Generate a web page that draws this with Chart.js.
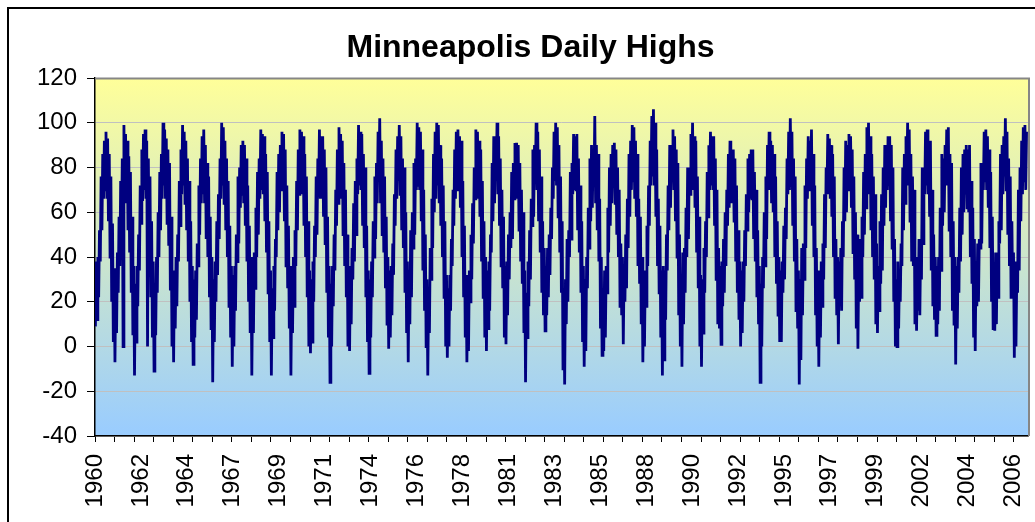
<!DOCTYPE html>
<html>
<head>
<meta charset="utf-8">
<script src="https://cdn.jsdelivr.net/npm/chart.js@4/dist/chart.umd.min.js"></script>
<style>
  html, body { margin: 0; padding: 0; background: #ffffff; }
  #wrap { width: 1035px; height: 522px; position: relative; }
</style>
</head>
<body>
<div id="wrap"><canvas id="c"></canvas></div>
<script>
// ---- Data: daily highs (°F), two readings per month (low swing, high swing) ----
const chartTitle = 'Minneapolis Daily Highs';
const years = [1960,1961,1962,1963,1964,1965,1966,1967,1968,1969,1970,1971,1972,1973,1974,1975,1976,1977,1978,1979,1980,1981,1982,1983,1984,1985,1986,1987,1988,1989,1990,1991,1992,1993,1994,1995,1996,1997,1998,1999,2000,2001,2002,2003,2004,2005,2006,2007];
const t1960 = [9,38, 12,40, 22,52, 38,76, 52,86, 66,92, 70,96, 66,93, 56,86, 40,76, 20,55, 2,35];
const t1961 = [-7,30, 6,42, 24,58, 36,74, 50,84, 0,99, 68,95, 64,92, 52,85, 42,78, 24,58, 5,36];
const t1962 = [-13,28, 2,36, 18,50, 34,72, 55,88, 65,95, 70,97, 66,92, 0,84, 40,76, 22,56, 4,38];
const t1963 = [-11,26, 5,40, 24,60, 40,78, 52,86, 66,100, 72,97, 66,93, 55,88, 45,82, 25,58, 0,34];
const t1964 = [-7,34, 8,40, 18,50, 38,74, 54,88, 68,99, 72,96, 64,92, 52,84, 38,74, 20,56, 2,36];
const t1965 = [-8,30, 4,34, 12,46, 36,72, 50,84, 64,94, 68,97, 64,90, 48,82, 40,76, 22,58, 8,40];
const t1966 = [-16,30, 2,38, 20,56, 32,68, 48,84, 66,100, 72,98, 64,92, 52,84, 40,74, 18,54, 4,36];
const t1967 = [-9,32, 0,36, 16,50, 38,76, 46,80, 62,90, 68,92, 64,90, 54,84, 38,72, 20,54, 6,40];
const t1968 = [-13,30, 6,42, 26,62, 40,78, 50,84, 66,97, 70,95, 68,94, 56,86, 42,78, 24,56, 2,34];
const t1969 = [-13,26, 4,36, 16,48, 40,78, 52,86, 60,90, 70,96, 70,95, 56,88, 36,72, 26,54, 8,36];
const t1970 = [-13,28, 6,40, 18,52, 36,74, 52,88, 68,97, 72,96, 68,94, 54,86, 40,76, 22,56, 0,34];
const t1971 = [-3,30, 2,38, 20,54, 40,76, 50,84, 68,97, 66,94, 66,94, 58,88, 46,80, 24,58, 4,36];
const t1972 = [-16,28, 0,36, 18,50, 34,70, 54,88, 64,98, 70,95, 66,92, 50,82, 36,70, 22,50, 0,32];
const t1973 = [-2,36, 10,44, 30,64, 38,74, 50,84, 68,99, 72,96, 70,95, 54,86, 44,80, 22,54, 2,34];
const t1974 = [-12,30, 4,38, 22,56, 40,76, 48,82, 64,96, 74,102, 64,92, 50,84, 42,76, 26,58, 10,40];
const t1975 = [-1,34, 4,36, 14,46, 32,68, 54,88, 66,94, 74,99, 68,94, 52,84, 44,80, 24,60, 6,38];
const t1976 = [-7,34, 10,52, 22,60, 44,82, 50,84, 70,100, 72,98, 70,96, 56,88, 34,70, 16,50, 0,30];
const t1977 = [-13,22, 6,44, 30,66, 44,86, 60,96, 66,100, 72,99, 64,90, 54,84, 40,72, 22,56, 0,32];
const t1978 = [-5,26, 0,32, 16,48, 36,70, 54,88, 66,96, 70,97, 70,94, 62,92, 40,74, 22,54, 4,32];
const t1979 = [-7,24, -2,34, 20,50, 30,64, 46,80, 66,97, 72,96, 66,92, 58,88, 38,74, 22,56, 4,40];
const t1980 = [-2,34, 8,38, 16,50, 42,82, 56,94, 64,94, 74,100, 68,94, 54,84, 36,70, 26,58, 4,36];
const t1981 = [1,38, 14,50, 30,60, 44,78, 48,82, 66,91, 70,91, 66,90, 52,82, 38,70, 28,60, 6,34];
const t1982 = [-16,24, 4,38, 18,52, 30,66, 54,88, 58,90, 74,100, 70,96, 56,88, 42,76, 24,56, 14,44];
const t1983 = [7,36, 14,44, 22,50, 32,62, 48,80, 66,96, 74,100, 72,98, 58,90, 42,76, 24,56, -10,24];
const t1984 = [-17,30, 10,48, 20,52, 40,78, 48,82, 68,95, 70,94, 70,95, 52,84, 42,72, 24,56, 2,36];
const t1985 = [-9,30, -2,40, 26,62, 44,84, 56,90, 62,88, 72,103, 64,90, 52,86, 38,66, 8,40, -4,26];
const t1986 = [-2,34, 4,36, 24,62, 42,80, 54,86, 64,90, 72,91, 64,88, 50,80, 40,70, 18,46, 14,40];
const t1987 = [1,36, 20,50, 26,66, 44,86, 58,92, 70,99, 74,98, 66,92, 58,86, 36,66, 28,58, 10,40];
const t1988 = [-7,30, 0,34, 18,54, 36,72, 54,92, 72,103, 76,106, 72,100, 58,88, 36,66, 24,54, 4,34];
const t1989 = [-13,36, -6,34, 12,50, 34,72, 52,90, 62,90, 74,97, 70,94, 56,88, 40,82, 14,50, 0,32];
const t1990 = [-9,42, 10,44, 24,62, 40,80, 48,80, 68,95, 70,100, 70,94, 62,92, 42,76, 26,58, 0,32];
const t1991 = [-9,30, 6,44, 24,56, 40,78, 58,90, 70,96, 72,94, 70,94, 54,84, 30,70, 10,44, 8,36];
const t1992 = [1,38, 18,48, 24,60, 36,70, 54,86, 62,92, 64,86, 64,88, 56,84, 38,72, 24,52, 12,38];
const t1993 = [0,34, 6,38, 20,52, 36,68, 52,84, 60,86, 66,88, 66,88, 48,78, 38,70, 22,52, 10,36];
const t1994 = [-16,28, 0,40, 26,60, 36,76, 48,90, 70,96, 70,92, 64,90, 60,86, 40,76, 28,56, 14,40];
const t1995 = [2,34, 2,38, 24,54, 30,62, 48,84, 68,96, 70,102, 72,96, 54,84, 38,76, 16,48, 8,34];
const t1996 = [-17,30, -6,44, 14,46, 30,72, 44,84, 66,94, 70,92, 70,97, 54,86, 40,72, 14,44, 0,34];
const t1997 = [-9,30, 4,38, 18,46, 30,68, 44,80, 68,95, 68,93, 66,90, 58,86, 40,76, 22,48, 14,40];
const t1998 = [1,38, 22,44, 16,56, 40,80, 56,92, 60,90, 70,95, 70,94, 62,88, 42,76, 30,60, 8,50];
const t1999 = [-1,38, 20,48, 22,58, 40,78, 50,86, 62,98, 72,100, 68,94, 52,86, 40,76, 30,68, 10,46];
const t2000 = [6,36, 16,56, 28,68, 34,80, 54,90, 62,90, 70,94, 72,94, 56,90, 44,80, 20,48, 0,30];
const t2001 = [0,38, 8,34, 20,46, 36,80, 52,86, 64,94, 74,100, 72,97, 56,86, 38,76, 36,70, 10,40];
const t2002 = [7,40, 16,48, 14,46, 30,80, 46,78, 68,96, 72,97, 68,92, 58,92, 34,70, 18,50, 12,40];
const t2003 = [5,36, 10,40, 16,62, 34,86, 54,84, 60,90, 72,97, 72,98, 52,86, 40,82, 16,56, 10,40];
const t2004 = [-8,36, 8,40, 24,62, 38,80, 50,86, 60,88, 68,90, 62,88, 60,90, 40,74, 28,62, 4,48];
const t2005 = [-2,38, 18,46, 20,48, 44,82, 46,80, 70,96, 74,97, 70,94, 62,88, 44,78, 20,58, 8,36];
const t2006 = [7,42, 10,42, 22,56, 46,86, 52,90, 68,94, 76,102, 70,96, 50,84, 36,76, 22,56, 22,42];
const t2007 = [-5,38, 0,32, 24,70, 34,80, 56,92, 68,98, 74,99, 70,96];
const yearlySeries = [t1960,t1961,t1962,t1963,t1964,t1965,t1966,t1967,t1968,t1969,t1970,t1971,t1972,t1973,t1974,t1975,t1976,t1977,t1978,t1979,t1980,t1981,t1982,t1983,t1984,t1985,t1986,t1987,t1988,t1989,t1990,t1991,t1992,t1993,t1994,t1995,t1996,t1997,t1998,t1999,t2000,t2001,t2002,t2003,t2004,t2005,t2006,t2007];

// ---- Tick labels ----
const yTickValues = [-40, -20, 0, 20, 40, 60, 80, 100, 120];
const xLabelYears = [1960,1962,1964,1967,1969,1971,1974,1976,1978,1981,1983,1985,1988,1990,1992,1995,1997,1999,2002,2004,2006];

// ---- Build points (x = fractional year, 24 readings per year) ----
const points = [];
yearlySeries.forEach((vals, i) => {
  vals.forEach((v, j) => points.push({ x: years[i] + (j + 0.5) / 24, y: v }));
});

const X_MIN = 1960, X_MAX = 2007.72;
const LABEL_STEP = 858 / 365.25; // Excel labels every 858 days
const labelPositions = xLabelYears.map((y, i) => X_MIN + i * LABEL_STEP);
const tickFont = { family: "'Liberation Sans', Arial, sans-serif", size: 24 };

const decorPlugin = {
  id: 'decor',
  beforeDraw(chart) {
    const { ctx, chartArea: a } = chart;
    ctx.save();
    ctx.fillStyle = '#ffffff';
    ctx.fillRect(0, 0, chart.width, chart.height);
    const g = ctx.createLinearGradient(0, a.top, 0, a.bottom);
    g.addColorStop(0, '#FFFF99');
    g.addColorStop(1, '#99CCFF');
    ctx.fillStyle = g;
    ctx.fillRect(a.left, a.top, a.right - a.left, a.bottom - a.top);
    // outer chart frame (left & top visible)
    ctx.strokeStyle = '#000000';
    ctx.lineWidth = 2;
    ctx.beginPath();
    ctx.moveTo(8, chart.height);
    ctx.lineTo(8, 8);
    ctx.lineTo(chart.width, 8);
    ctx.stroke();
    ctx.restore();
  },
  afterDraw(chart) {
    const { ctx, chartArea: a } = chart;
    ctx.save();
    ctx.strokeStyle = '#868686';
    ctx.lineWidth = 2;
    ctx.beginPath();
    ctx.moveTo(a.left, a.top + 0.5);
    ctx.lineTo(a.right + 1, a.top + 0.5);
    ctx.lineTo(a.right + 1, a.bottom);
    ctx.stroke();
    ctx.restore();
  }
};

new Chart(document.getElementById('c'), {
  type: 'line',
  data: {
    datasets: [{
      label: 'Daily High',
      data: points,
      borderColor: '#000080',
      borderWidth: 2.8,
      pointRadius: 0,
      tension: 0,
      fill: false
    }]
  },
  options: {
    responsive: true,
    maintainAspectRatio: false,
    animation: false,
    events: [],
    layout: { padding: { left: 33, right: 7, top: 0, bottom: 0 } },
    plugins: {
      legend: { display: false },
      tooltip: { enabled: false },
      title: {
        display: true,
        text: chartTitle,
        color: '#000000',
        font: { family: "'Liberation Sans', Arial, sans-serif", size: 32, weight: 'bold', lineHeight: 1.0 },
        padding: { top: 32, bottom: 14 }
      }
    },
    scales: {
      x: {
        type: 'linear',
        position: 'bottom',
        min: X_MIN,
        max: X_MAX,
        weight: 0,
        afterBuildTicks: s => { s.ticks = years.map(v => ({ value: v })); },
        afterFit: s => { s.height = 6; s.paddingLeft = 0; s.paddingRight = 0; },
        grid: { display: true, drawOnChartArea: false, drawTicks: true, tickLength: 6, tickColor: '#000000', tickWidth: 1 },
        border: { display: true, color: '#000000', width: 1.5 },
        ticks: { display: false }
      },
      x2: {
        type: 'linear',
        position: 'bottom',
        axis: 'x',
        min: X_MIN,
        max: X_MAX,
        weight: 1,
        afterBuildTicks: s => { s.ticks = labelPositions.map(v => ({ value: v })); },
        afterFit: s => { s.height = 80; s.paddingLeft = 0; s.paddingRight = 0; },
        grid: { display: false, drawTicks: false },
        border: { display: false },
        ticks: {
          autoSkip: false,
          minRotation: 90,
          maxRotation: 90,
          padding: 12,
          color: '#000000',
          font: tickFont,
          callback: (v, i) => String(xLabelYears[i])
        }
      },
      y: {
        type: 'linear',
        min: -40,
        max: 120,
        afterBuildTicks: s => { s.ticks = yTickValues.map(v => ({ value: v })); },
        afterFit: s => { s.width = 62; s.paddingTop = 0; s.paddingBottom = 0; },
        grid: { color: '#C0C0C0', lineWidth: 1, drawTicks: true, tickLength: 8, tickColor: '#000000' },
        border: { display: true, color: '#000000', width: 1.5 },
        ticks: { color: '#000000', font: tickFont, padding: 10, callback: v => String(v) }
      }
    }
  },
  plugins: [decorPlugin]
});
</script>
</body>
</html>
